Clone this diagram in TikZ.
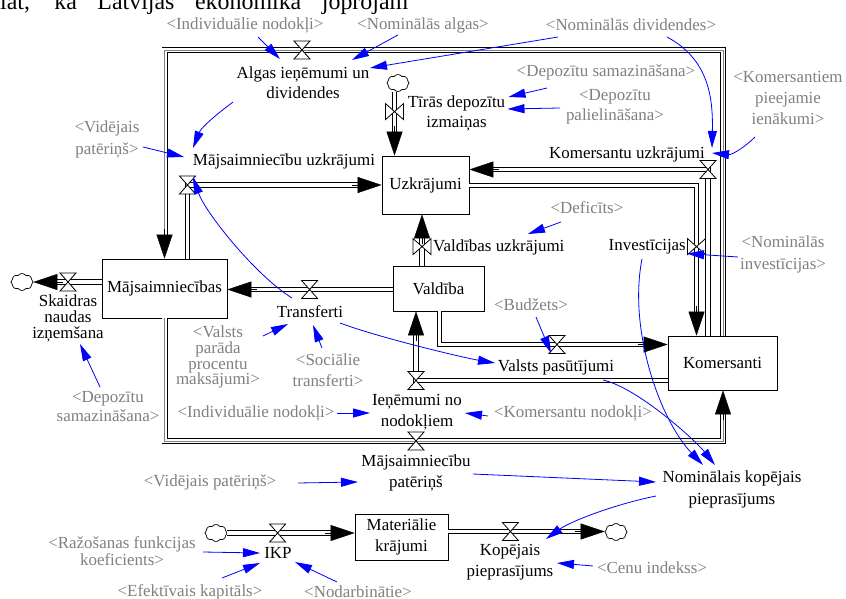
\documentclass[tikz,border=0pt]{standalone}
\usepackage{fontspec}
\setmainfont{Liberation Serif}
\usetikzlibrary{arrows.meta,shapes.symbols,calc}
\definecolor{lblgray}{RGB}{128,128,128}
\definecolor{linkblue}{RGB}{0,0,255}
\tikzset{
  lbl/.style={inner sep=0pt, align=center, font=\fontsize{17}{#1}\selectfont},
  lbl/.default=20,
  glbl/.style={lbl=#1, text=lblgray},
  glbl/.default=20,
  stock/.style={draw, line width=0.8bp, fill=white, inner sep=0pt, align=center, font=\fontsize{17}{21}\selectfont},
  pipe/.style={draw=black, line width=0.9bp, double=white, double distance=3.6bp},
  framepipe/.style={draw=black, line width=0.9bp, double=white, double distance=4.2bp},
  framecore/.style={draw=black!50, line width=0.8bp},
  pipehead/.style={draw=black, line width=0.4bp, -{Triangle[length=24bp,width=16bp]}},
  link/.style={draw=linkblue, line width=0.8bp, -{Triangle[length=17bp,width=9bp]}},
  cloudn/.style={cloud, cloud puffs=8, cloud puff arc=110, aspect=1.3, draw, fill=white, line width=0.7bp, minimum width=22bp, minimum height=17bp, inner sep=0pt},
  valveh/.pic={\draw[fill=white, line width=0.8bp] (-8,-9) -- (8,-9) -- (-8,9) -- (8,9) -- cycle;},
  valvev/.pic={\draw[fill=white, line width=0.8bp] (-9,-8) -- (-9,8) -- (9,-8) -- (9,8) -- cycle;},
}
\begin{document}
\begin{tikzpicture}[x=1bp,y=-1bp]
\useasboundingbox (0,0) rectangle (846,599);
\clip (0,0) rectangle (846,599);
\fill[white] (0,0) rectangle (846,599);

% header fragment
\node[anchor=base west, inner sep=0pt] (hdr) at (0,10) {\fontsize{24}{27}\selectfont\makebox[408bp][s]{iat, ka Latvijas ekonomika joprojām}};

% stocks
\node[stock, minimum width=87bp, minimum height=58bp] (Uzk) at (425.5,185) {Uzkrājumi};
\node[stock, minimum width=125bp, minimum height=59bp] (Maj) at (164.5,288.5) {Mājsaimniecības};
\node[stock, minimum width=91bp, minimum height=45bp] (Val) at (438.5,288.5) {Valdība};
\node[stock, minimum width=109bp, minimum height=54bp] (Kom) at (722.5,363) {Komersanti};
\node[stock, minimum width=93bp, minimum height=46bp] (Mat) at (401.5,537) {Materiālie\\krājumi};

% clouds
\node[cloudn] (cTdi) at (398,83) {};
\node[cloudn] (cSkn) at (22,282) {};
\node[cloudn] (cIkp) at (216,533) {};
\node[cloudn] (cKp) at (616,532) {};

% helper coordinates
\coordinate (frT) at (0,50);
\coordinate (frB) at (0,441);
\coordinate (komN3) at ($(Kom.north)+(0.5,0)$);
\coordinate (komS3) at ($(Kom.south)+(0.5,0)$);
\coordinate (uzkT) at ($(Uzk.north)+(-31,0)$);
\coordinate (majN2) at ($(Maj.north)+(23,0)$);
\coordinate (valN) at ($(Val.north)+(-16.5,0)$);
\coordinate (valW) at ($(Val.west)+(0,1)$);
\coordinate (valS1) at ($(Val.south)+(1,0)$);
\coordinate (komW1) at ($(Kom.west)+(0,-18.5)$);
\coordinate (komW2) at ($(Kom.west)+(0,17.5)$);
\coordinate (valS2) at ($(Val.south)+(-22.5,0)$);
\coordinate (uzkE2) at ($(Uzk.east)+(0,0.5)$);
\coordinate (komN1) at ($(Kom.north)+(-26,0)$);
\coordinate (komN2) at ($(Kom.north)+(-14.5,0)$);
\coordinate (uzkE1) at ($(Uzk.east)+(0,-15.5)$);
\coordinate (majW) at ($(Maj.west)+(0,-6.5)$);
\coordinate (matW) at ($(Mat.west)+(0,-4)$);
\coordinate (matE) at ($(Mat.east)+(0,-5.5)$);

% frame pipes (wages+dividends, household consumption)
\draw[framepipe] (komN3) -- (komN3 |- frT) -- (Maj.north |- frT) -- ($(Maj.north)+(0,-22)$);
\draw[framecore] (komN3) -- (komN3 |- frT) -- (Maj.north |- frT) -- ($(Maj.north)+(0,-22)$);
\draw[pipehead] ($(Maj.north)+(0,-30)$) -- (Maj.north);
\draw[framepipe] (Maj.south) -- (Maj.south |- frB) -- (komS3 |- frB) -- ($(komS3)+(0,22)$);
\draw[framecore] (Maj.south) -- (Maj.south |- frB) -- (komS3 |- frB) -- ($(komS3)+(0,22)$);
\draw[pipehead] ($(komS3)+(0,30)$) -- (komS3);

% other pipes
\draw[pipe] (uzkT |- cTdi.south) -- ($(uzkT)+(0,-22)$);
\draw[pipehead] ($(uzkT)+(0,-30)$) -- (uzkT);

\draw[pipe] (majN2) -- (majN2 |- Uzk.west) -- ($(Uzk.west)+(-22,0)$);
\draw[pipehead] ($(Uzk.west)+(-30,0)$) -- (Uzk.west);

\draw[pipe] (valN) -- ($(valN |- Uzk.south)+(0,22)$);
\draw[pipehead] ($(valN |- Uzk.south)+(0,30)$) -- (valN |- Uzk.south);

\draw[pipe] (valW) -- ($(valW -| Maj.east)+(22,0)$);
\draw[pipehead] ($(valW -| Maj.east)+(30,0)$) -- (valW -| Maj.east);

\draw[pipe] (valS1) -- (valS1 |- komW1) -- ($(komW1)+(-22,0)$);
\draw[pipehead] ($(komW1)+(-30,0)$) -- (komW1);

\draw[pipe] (komW2) -- (komW2 -| valS2) -- ($(valS2)+(0,22)$);
\draw[pipehead] ($(valS2)+(0,30)$) -- (valS2);

\draw[pipe] (uzkE2) -- (uzkE2 -| komN1) -- ($(komN1)+(0,-22)$);
\draw[pipehead] ($(komN1)+(0,-30)$) -- (komN1);

\draw[pipe] (komN2) -- (komN2 |- uzkE1) -- ($(uzkE1)+(22,0)$);
\draw[pipehead] ($(uzkE1)+(30,0)$) -- (uzkE1);

\draw[pipe] (majW) -- ($(majW -| cSkn.east)+(22,0)$);
\draw[pipehead] ($(majW -| cSkn.east)+(30,0)$) -- (majW -| cSkn.east);

\draw[pipe] (cIkp.east |- matW) -- ($(matW)+(-22,0)$);
\draw[pipehead] ($(matW)+(-30,0)$) -- (matW);

\draw[pipe] (matE) -- ($(matE -| cKp.west)+(-22,0)$);
\draw[pipehead] ($(matE -| cKp.west)+(-30,0)$) -- (matE -| cKp.west);

% valves
\coordinate (vAlg) at (302,50);
\coordinate (vPat) at (416,441);
\coordinate (vSkn) at (68,282);
\coordinate (vMu) at (majN2 |- Uzk.west);
\coordinate (vTdi) at ($(uzkT)+(0,-44)$);
\coordinate (vVu) at ($(valN)+(0,-19)$);
\coordinate (vTr) at ($(valW)+(-83,0)$);
\coordinate (vVp) at ($(valS1 |- komW1)+(117.5,0)$);
\coordinate (vIn) at (komW2 -| valS2);
\coordinate (vInv) at ($(komN1)+(0,-89)$);
\coordinate (vKu) at (komN2 |- uzkE1);
\coordinate (vIkp) at ($(matW)+(-77,0)$);
\coordinate (vKp) at ($(matE)+(62,0)$);
\pic at (vAlg) {valveh};
\pic at (vPat) {valveh};
\pic at (vSkn) {valveh};
\pic at (vMu) {valveh};
\pic at (vTdi) {valvev};
\pic at (vVu) {valvev};
\pic at (vTr) {valveh};
\pic at (vVp) {valveh};
\pic at (vIn) {valveh};
\pic at (vInv) {valvev};
\pic at (vKu) {valveh};
\pic at (vIkp) {valveh};
\pic at (vKp) {valveh};

% variable labels
\node[lbl] (lAlg) at (303,83) {Algas ieņēmumi un\\dividendes};
\node[lbl] (lTdi) at (456.5,113) {Tīrās depozītu\\izmaiņas};
\node[lbl] (lMu) at (284,161) {Mājsaimniecību uzkrājumi};
\node[lbl] (lKu) at (627,154) {Komersantu uzkrājumi};
\node[lbl, anchor=west] (lVu) at (433,247) {Valdības uzkrājumi};
\node[lbl, anchor=east] (lInv) at (686,247) {Investīcijas};
\node[lbl] (lTr) at (310,312) {Transferti};
\node[lbl] (lVp) at (556,367) {Valsts pasūtījumi};
\node[lbl=21] (lIn) at (417,412) {Ieņēmumi no\\nodokļiem};
\node[lbl=16] (lSkn) at (68,318) {Skaidras\\naudas\\izņemšana};
\node[lbl=21] (lPat) at (416,473) {Mājsaimniecību\\patēriņš};
\node[lbl=22] (lNkp) at (732,489) {Nominālais kopējais\\pieprasījums};
\node[lbl] (lIkp) at (278,553) {IKP};
\node[lbl=21] (lKp) at (510,562) {Kopējais\\pieprasījums};

% shadow variables
\node[glbl] (gIndT) at (245,25) {<Individuālie nodokļi>};
\node[glbl] (gNomAlg) at (423,25) {<Nominālās algas>};
\node[glbl] (gNomDiv) at (631,25) {<Nominālās dividendes>};
\node[glbl] (gDepS) at (606,72) {<Depozītu samazināšana>};
\node[glbl=20] (gDepP) at (615,107) {<Depozītu\\palielināšana>};
\node[glbl=21.5] (gKomP) at (788,98) {<Komersantiem\\pieejamie\\ienākumi>};
\node[glbl=22] (gVidT) at (107,139) {<Vidējais\\patēriņš>};
\node[glbl] (gDef) at (587,208) {<Deficīts>};
\node[glbl=22] (gNomI) at (783,254) {<Nominālās\\investīcijas>};
\node[glbl] (gBud) at (531,305) {<Budžets>};
\node[glbl] (gKomN) at (573,413) {<Komersantu nodokļi>};
\node[glbl] (gIndB) at (256,413) {<Individuālie nodokļi>};
\node[glbl=16] (gVpp) at (218,357) {<Valsts\\parāda\\procentu\\maksājumi>};
\node[glbl=21] (gSoc) at (328,370) {<Sociālie\\transferti>};
\node[glbl=19] (gDepS2) at (108,407) {<Depozītu\\samazināšana>};
\node[glbl] (gVidB) at (210,482) {<Vidējais patēriņš>};
\node[glbl=17] (gRaz) at (122,551) {<Ražošanas funkcijas\\koeficients>};
\node[glbl] (gEfk) at (190,592) {<Efektīvais kapitāls>};
\node[glbl] (gNod) at (358,592) {<Nodarbinātie>};
\node[glbl] (gCen) at (652,568) {<Cenu indekss>};

% causal links
\draw[link] ($(gIndT.center)+(13,12)$) -- ($(lAlg.center)+(-23,-24)$);
\draw[link] ($(gNomAlg.center)+(-25,10)$) -- ($(lAlg.center)+(49,-23)$);
\draw[link] ($(gNomDiv.center)+(-73,12)$) -- ($(lAlg.center)+(67,-15)$);
\draw[link] ($(gNomDiv.center)+(36,12)$) .. controls +(43,23) and +(1,-48) .. ($(lKu.center)+(85,-6)$);
\draw[link] ($(gKomP.center)+(-33,39)$) .. controls +(-10,10) and +(20,2) .. ($(lKu.center)+(85,-1)$);
\draw[link] ($(gDepS.center)+(-59,16)$) -- ($(lTdi.center)+(52,-16)$);
\draw[link] ($(gDepP.center)+(-55,1)$) -- ($(lTdi.center)+(51,-4)$);
\draw[link] ($(lAlg.center)+(-70,19)$) .. controls +(-20,15) and +(8,-20) .. ($(lMu.center)+(-91,-13)$);
\draw[link] ($(gVidT.center)+(36,8)$) -- ($(lMu.center)+(-100,-4)$);
\draw[link] ($(lTr.center)+(-18,-14)$) .. controls +(-37,-23) and +(12,35) .. ($(lMu.center)+(-91,16)$);
\draw[link] ($(lTr.center)+(30,11)$) .. controls +(40,15) and +(-30,-5) .. ($(lVp.center)+(-61,-4)$);
\draw[link] ($(gVpp.center)+(45,-21)$) -- ($(lTr.center)+(-22,12)$);
\draw[link] ($(gSoc.center)+(-6,-22)$) -- ($(lTr.center)+(3,13)$);
\draw[link] ($(gDepS2.center)+(-8,-20)$) -- ($(lSkn.center)+(12,26)$);
\draw[link] ($(gIndB.center)+(81,0)$) -- ($(lIn.center)+(-47,1)$);
\draw[link] ($(gKomN.center)+(-85,3)$) -- ($(lIn.center)+(48,1)$);
\draw[link] ($(gDef.center)+(-26,14)$) -- ($(lVu.west)+(95,-13)$);
\draw[link] ($(gNomI.center)+(-45,3)$) -- ($(vInv)+(-9.5,7)$);
\draw[link] ($(gBud.center)+(5,12)$) -- ($(vVp)+(-6,8.5)$);
\draw[link] ($(lInv.east)+(-44,12)$) .. controls +(-14,71) and +(-43,-45) .. ($(lNkp.center)+(-29,-24)$);
\draw[link] ($(lVp.center)+(47,13)$) .. controls +(35,8) and +(-20,-25) .. ($(lNkp.center)+(-17,-24)$);
\draw[link] ($(lPat.center)+(57,1)$) -- ($(lNkp.center)+(-76,-7)$);
\draw[link] ($(lNkp.center)+(-76,7)$) .. controls +(-40,8) and +(25,-18) .. ($(lKp.center)+(36,-23)$);
\draw[link] ($(gCen.center)+(-59,-2)$) -- ($(lKp.center)+(47,1)$);
\draw[link] ($(gVidB.center)+(88,1)$) -- ($(lPat.center)+(-58,9)$);
\draw[link] ($(gRaz.center)+(81,1)$) -- ($(lIkp.center)+(-18,0)$);
\draw[link] ($(gEfk.center)+(32,-14)$) -- ($(lIkp.center)+(-18,10)$);
\draw[link] ($(gNod.center)+(-21,-10)$) -- ($(lIkp.center)+(17,9)$);
\end{tikzpicture}
\end{document}
